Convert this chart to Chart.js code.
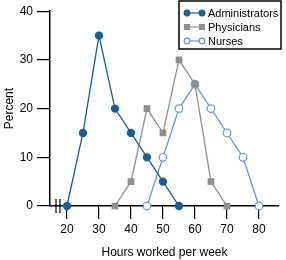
<!DOCTYPE html>
<html>
<head>
<meta charset="utf-8">
<script src="https://cdn.jsdelivr.net/npm/chart.js@4.4.1/dist/chart.umd.min.js"></script>
<style>
  html, body { margin: 0; padding: 0; background: #fff; }
  #wrap { width: 286px; height: 260px; position: relative; }
</style>
</head>
<body>
<div id="wrap"><canvas id="hoursChart"></canvas></div>
<script>
// Values
const adminHours = [20, 25, 30, 35, 40, 45, 50, 55];
const adminPct = [0, 15, 35, 20, 15, 10, 5, 0];
const physHours = [35, 40, 45, 50, 55, 60, 65, 70];
const physPct = [0, 5, 20, 15, 30, 25, 5, 0];
const nurseHours = [45, 50, 55, 60, 65, 70, 75, 80];
const nursePct = [0, 10, 20, 25, 20, 15, 10, 0];

const xTicks = [20, 30, 40, 50, 60, 70, 80];
const yTicks = [0, 10, 20, 30, 40];

const FONT = "'Liberation Sans', Arial, sans-serif";

function toPoints(xs, ys) {
  return xs.map((x, i) => ({ x: x, y: ys[i] }));
}

// Legend box in the upper right + axis break marks
const extras = {
  id: "extras",
  afterDraw(chart) {
    const ctx = chart.ctx;
    const area = chart.chartArea;
    const yAxis = chart.scales.y;

    // axis break "||" near the origin
    const y0 = yAxis.getPixelForValue(0);
    ctx.save();
    ctx.strokeStyle = "#000";
    ctx.lineWidth = 1.2;
    [6, 10].forEach((dx) => {
      ctx.beginPath();
      ctx.moveTo(area.left + dx, y0 - 7);
      ctx.lineTo(area.left + dx, y0 + 7);
      ctx.stroke();
    });

    // legend
    const bx = 179, by = 1, bw = 102, bh = 48;
    ctx.lineWidth = 1.5;
    ctx.strokeRect(bx, by, bw, bh);
    ctx.font = "11px " + FONT;
    ctx.textBaseline = "middle";
    chart.data.datasets.forEach((ds, i) => {
      const ly = by + 12 + i * 14;
      ctx.strokeStyle = ds.borderColor;
      ctx.lineWidth = 1.2;
      ctx.beginPath();
      ctx.moveTo(bx + 8, ly);
      ctx.lineTo(bx + 23, ly);
      ctx.stroke();
      [bx + 8, bx + 23].forEach((px) => {
        ctx.fillStyle = ds.pointBackgroundColor;
        ctx.strokeStyle = ds.pointBorderColor;
        ctx.beginPath();
        if (ds.pointStyle === "rect") {
          ctx.rect(px - 2.5, ly - 2.5, 5, 5);
        } else {
          ctx.arc(px, ly, 2.8, 0, Math.PI * 2);
        }
        ctx.fill();
        ctx.stroke();
      });
      ctx.fillStyle = "#000";
      ctx.fillText(ds.label, bx + 29, ly + 0.5);
    });
    ctx.restore();
  },
};

new Chart(document.getElementById("hoursChart"), {
  type: "line",
  data: {
    datasets: [
      {
        label: "Administrators",
        data: toPoints(adminHours, adminPct),
        borderColor: "#1a5d98",
        pointBackgroundColor: "#1a5d98",
        pointBorderColor: "#1a5d98",
        pointStyle: "circle",
        pointRadius: 3.5,
        borderWidth: 1.3,
        clip: false,
      },
      {
        label: "Physicians",
        data: toPoints(physHours, physPct),
        borderColor: "#8f8f8f",
        pointBackgroundColor: "#8f8f8f",
        pointBorderColor: "#8f8f8f",
        pointStyle: "rect",
        pointRadius: 3.8,
        borderWidth: 1.3,
        clip: false,
      },
      {
        label: "Nurses",
        data: toPoints(nurseHours, nursePct),
        borderColor: "#6d97c9",
        pointBackgroundColor: "#ffffff",
        pointBorderColor: "#6d97c9",
        pointStyle: "circle",
        pointRadius: 3.8,
        pointBorderWidth: 1.2,
        borderWidth: 1.3,
        clip: false,
      },
    ],
  },
  options: {
    responsive: true,
    maintainAspectRatio: false,
    animation: false,
    layout: { padding: { top: 5, right: 7, left: 0, bottom: 0 } },
    plugins: { legend: { display: false }, tooltip: { enabled: false } },
    scales: {
      x: {
        type: "linear",
        min: 14.7,
        max: 86.25,
        afterBuildTicks: (scale) => {
          scale.ticks = xTicks.map((v) => ({ value: v }));
        },
        afterFit: (scale) => {
          scale.height = 54;
        },
        grid: { drawOnChartArea: false, tickLength: 13, color: "#000", lineWidth: 1.2 },
        border: { color: "#000", width: 1.5 },
        ticks: { color: "#000", padding: 3, font: { family: FONT, size: 12 }, maxRotation: 0 },
        title: {
          display: true,
          text: "Hours worked per week",
          color: "#000",
          font: { family: FONT, size: 12 },
          padding: { top: 0, bottom: 0 },
        },
      },
      y: {
        min: 0,
        max: 40,
        afterBuildTicks: (scale) => {
          scale.ticks = yTicks.map((v) => ({ value: v }));
        },
        afterFit: (scale) => {
          scale.width = 50;
        },
        grid: { drawOnChartArea: false, tickLength: 13, color: "#000", lineWidth: 1.2 },
        border: { color: "#000", width: 1.5 },
        ticks: { color: "#000", padding: 4, font: { family: FONT, size: 12 } },
        title: {
          display: true,
          text: "Percent",
          color: "#000",
          font: { family: FONT, size: 12 },
          padding: { top: 2, bottom: 0 },
        },
      },
    },
  },
  plugins: [extras],
});
</script>
</body>
</html>
